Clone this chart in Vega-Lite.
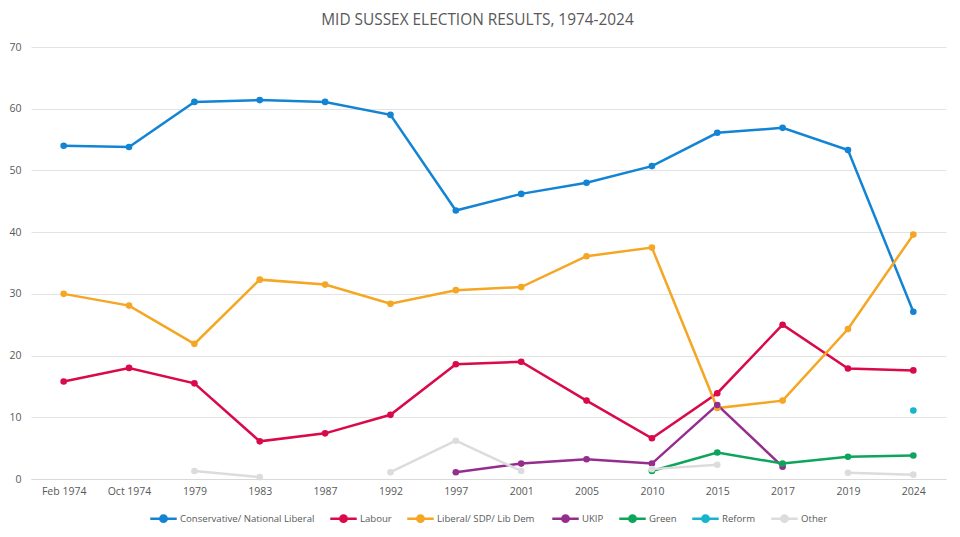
{
  "$schema": "https://vega.github.io/schema/vega-lite/v6.json",
  "width": 960,
  "height": 537,
  "autosize": {"type": "fit", "contains": "padding"},
  "padding": {"left": 8, "top": 12, "right": 14, "bottom": 10},
  "background": "white",
  "title": {
    "text": "MID SUSSEX ELECTION RESULTS, 1974-2024",
    "font": "Open Sans",
    "fontSize": 15.4,
    "fontWeight": "normal",
    "color": "#595959",
    "anchor": "middle",
    "frame": "bounds",
    "offset": 14
  },
  "data": {
    "values": [
      {"year": "Feb 1974", "party": "Conservative/ National Liberal", "pct": 54.0},
      {"year": "Oct 1974", "party": "Conservative/ National Liberal", "pct": 53.8},
      {"year": "1979", "party": "Conservative/ National Liberal", "pct": 61.1},
      {"year": "1983", "party": "Conservative/ National Liberal", "pct": 61.4},
      {"year": "1987", "party": "Conservative/ National Liberal", "pct": 61.1},
      {"year": "1992", "party": "Conservative/ National Liberal", "pct": 59.0},
      {"year": "1997", "party": "Conservative/ National Liberal", "pct": 43.5},
      {"year": "2001", "party": "Conservative/ National Liberal", "pct": 46.2},
      {"year": "2005", "party": "Conservative/ National Liberal", "pct": 48.0},
      {"year": "2010", "party": "Conservative/ National Liberal", "pct": 50.7},
      {"year": "2015", "party": "Conservative/ National Liberal", "pct": 56.1},
      {"year": "2017", "party": "Conservative/ National Liberal", "pct": 56.9},
      {"year": "2019", "party": "Conservative/ National Liberal", "pct": 53.3},
      {"year": "2024", "party": "Conservative/ National Liberal", "pct": 27.1},
      {"year": "Feb 1974", "party": "Labour", "pct": 15.8},
      {"year": "Oct 1974", "party": "Labour", "pct": 18.0},
      {"year": "1979", "party": "Labour", "pct": 15.5},
      {"year": "1983", "party": "Labour", "pct": 6.1},
      {"year": "1987", "party": "Labour", "pct": 7.4},
      {"year": "1992", "party": "Labour", "pct": 10.4},
      {"year": "1997", "party": "Labour", "pct": 18.6},
      {"year": "2001", "party": "Labour", "pct": 19.0},
      {"year": "2005", "party": "Labour", "pct": 12.7},
      {"year": "2010", "party": "Labour", "pct": 6.6},
      {"year": "2015", "party": "Labour", "pct": 13.9},
      {"year": "2017", "party": "Labour", "pct": 25.0},
      {"year": "2019", "party": "Labour", "pct": 17.9},
      {"year": "2024", "party": "Labour", "pct": 17.6},
      {"year": "Feb 1974", "party": "Liberal/ SDP/ Lib  Dem", "pct": 30.0},
      {"year": "Oct 1974", "party": "Liberal/ SDP/ Lib  Dem", "pct": 28.1},
      {"year": "1979", "party": "Liberal/ SDP/ Lib  Dem", "pct": 21.9},
      {"year": "1983", "party": "Liberal/ SDP/ Lib  Dem", "pct": 32.3},
      {"year": "1987", "party": "Liberal/ SDP/ Lib  Dem", "pct": 31.5},
      {"year": "1992", "party": "Liberal/ SDP/ Lib  Dem", "pct": 28.4},
      {"year": "1997", "party": "Liberal/ SDP/ Lib  Dem", "pct": 30.6},
      {"year": "2001", "party": "Liberal/ SDP/ Lib  Dem", "pct": 31.1},
      {"year": "2005", "party": "Liberal/ SDP/ Lib  Dem", "pct": 36.1},
      {"year": "2010", "party": "Liberal/ SDP/ Lib  Dem", "pct": 37.5},
      {"year": "2015", "party": "Liberal/ SDP/ Lib  Dem", "pct": 11.5},
      {"year": "2017", "party": "Liberal/ SDP/ Lib  Dem", "pct": 12.7},
      {"year": "2019", "party": "Liberal/ SDP/ Lib  Dem", "pct": 24.3},
      {"year": "2024", "party": "Liberal/ SDP/ Lib  Dem", "pct": 39.6},
      {"year": "1997", "party": "UKIP", "pct": 1.1},
      {"year": "2001", "party": "UKIP", "pct": 2.5},
      {"year": "2005", "party": "UKIP", "pct": 3.2},
      {"year": "2010", "party": "UKIP", "pct": 2.5},
      {"year": "2015", "party": "UKIP", "pct": 12.0},
      {"year": "2017", "party": "UKIP", "pct": 2.0},
      {"year": "2010", "party": "Green", "pct": 1.3},
      {"year": "2015", "party": "Green", "pct": 4.3},
      {"year": "2017", "party": "Green", "pct": 2.5},
      {"year": "2019", "party": "Green", "pct": 3.6},
      {"year": "2024", "party": "Green", "pct": 3.8},
      {"year": "2024", "party": "Reform", "pct": 11.1},
      {"year": "1979", "party": "Other", "pct": 1.3},
      {"year": "1983", "party": "Other", "pct": 0.3},
      {"year": "1987", "party": "Other", "pct": null},
      {"year": "1992", "party": "Other", "pct": 1.1},
      {"year": "1997", "party": "Other", "pct": 6.2},
      {"year": "2001", "party": "Other", "pct": 1.3},
      {"year": "2005", "party": "Other", "pct": null},
      {"year": "2010", "party": "Other", "pct": 1.6},
      {"year": "2015", "party": "Other", "pct": 2.3},
      {"year": "2017", "party": "Other", "pct": null},
      {"year": "2019", "party": "Other", "pct": 1.0},
      {"year": "2024", "party": "Other", "pct": 0.7}
    ]
  },
  "mark": {
    "type": "line",
    "strokeWidth": 2.5,
    "invalid": "break-paths-filter-domains",
    "point": {"filled": true, "size": 44}
  },
  "encoding": {
    "x": {
      "field": "year",
      "type": "ordinal",
      "sort": ["Feb 1974", "Oct 1974", "1979", "1983", "1987", "1992", "1997", "2001", "2005", "2010", "2015", "2017", "2019", "2024"],
      "scale": {"padding": 0.5},
      "title": null,
      "axis": {
        "labelAngle": 0,
        "ticks": false,
        "domainColor": "#D9D9D9",
        "labelPadding": 7,
        "grid": false
      }
    },
    "y": {
      "field": "pct",
      "type": "quantitative",
      "scale": {"domain": [0, 70]},
      "title": null,
      "axis": {
        "values": [0, 10, 20, 30, 40, 50, 60, 70],
        "domain": false,
        "ticks": false,
        "gridColor": "#E3E3E3",
        "labelPadding": 10
      }
    },
    "color": {
      "field": "party",
      "type": "nominal",
      "title": null,
      "scale": {
        "domain": ["Conservative/ National Liberal", "Labour", "Liberal/ SDP/ Lib  Dem", "UKIP", "Green", "Reform", "Other"],
        "range": ["#1384D4", "#D9094A", "#F5A623", "#952D8E", "#0CA55B", "#16B5CC", "#DCDCDC"]
      },
      "legend": {
        "orient": "bottom",
        "direction": "horizontal",
        "columnPadding": 10,
        "symbolType": "M-1,0L1,0M-0.24,0A0.24,0.24 0 1 1 0.24,0A0.24,0.24 0 1 1 -0.24,0Z",
        "symbolSize": 700,
        "symbolStrokeWidth": 2.5,
        "labelOffset": 2,
        "labelFontSize": 9.6,
        "offset": 7,
        "encode": {
          "symbols": {"update": {"fill": {"scale": "color", "field": "value"}, "stroke": {"scale": "color", "field": "value"}}}
        }
      }
    }
  },
  "config": {
    "font": "Open Sans",
    "view": {"stroke": null},
    "axis": {"labelColor": "#595959", "labelFontSize": 10.5, "labelFont": "Open Sans"},
    "legend": {"labelColor": "#595959", "labelFontSize": 9.6, "labelFont": "Open Sans", "layout": {"bottom": {"anchor": "middle"}}}
  }
}
